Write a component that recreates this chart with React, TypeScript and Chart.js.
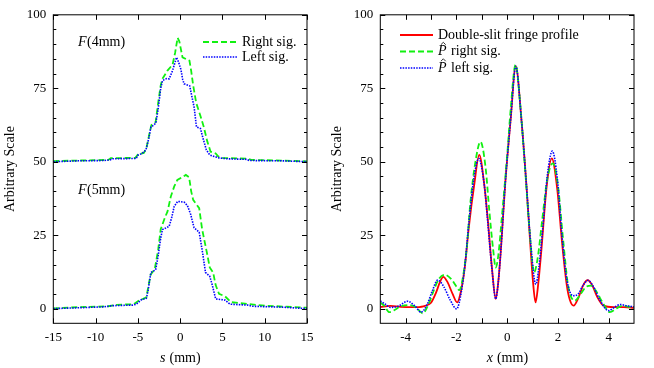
import React, { useEffect, useRef } from 'react';
import { Chart, registerables } from 'chart.js';
Chart.register(...registerables);

const FONT = '"Liberation Serif", "Times New Roman", serif';
const TXT = 14;

// ---------- tick definitions ----------
const sLabelTicks = [-15, -10, -5, 0, 5, 10, 15];
const xLabelTicks = [-4, -2, 0, 2, 4];
const xMarkTicks = [-4, -3, -2, -1, 0, 1, 2, 3, 4];
const yLabelTicks = [0, 25, 50, 75, 100];
const yMinorTicks = [5, 10, 15, 20, 30, 35, 40, 45, 55, 60, 65, 70, 80, 85, 90, 95];

// ---------- left panel: F(4mm) (offset +50) ----------
const up4RightS = [-15, -12, -8.5, -8.2, -5.3, -5, -4.3, -4.0, -3.6, -3.4, -2.9, -2.6, -2.3, -2.1, -1.5, -0.9, -0.6, -0.3, -0.1, 0.28, 1.1, 1.3, 1.55, 1.9, 2.44, 2.8, 3.2, 3.6, 4.2, 4.5, 5.0, 6, 8, 8.4, 12, 15];
const up4RightV = [50.2, 50.4, 50.6, 51.2, 51.3, 52.4, 53, 54.5, 60, 62.5, 63.5, 70, 76, 78.2, 81, 83, 87, 92.2, 91, 85.5, 84.4, 81, 75.8, 70, 65.2, 61.8, 57, 53.4, 52.8, 51.8, 51.3, 51.2, 51.0, 50.6, 50.4, 50.1];
const up4LeftS = [-15, -12, -9, -8.3, -8, -5.2, -5, -4.5, -4.05, -3.7, -3.46, -3.1, -2.87, -2.6, -2.3, -2.09, -1.6, -1.3, -0.9, -0.43, -0.2, 0.08, 0.3, 0.47, 1.13, 1.4, 1.65, 1.93, 2.4, 2.7, 3.1, 3.5, 4.0, 4.6, 5.5, 7.8, 8.2, 12, 15];
const up4LeftV = [50.0, 50.3, 50.4, 50.6, 51.0, 51.1, 52.2, 52.8, 54, 58, 61.8, 62.5, 63.2, 68, 75, 77.6, 78.3, 78.2, 81, 85.5, 84, 81.5, 78, 76.5, 75.8, 72, 68.6, 61.8, 61.3, 58, 54, 52.3, 51.8, 51.3, 51.0, 50.8, 50.4, 50.3, 50.0];

// ---------- left panel: F(5mm) ----------
const lo5RightS = [-15, -12, -8.5, -7.5, -5.5, -5.0, -4.5, -4.0, -3.5, -3.0, -2.6, -2.3, -1.8, -1.5, -1.1, -0.7, -0.33, 0.67, 1.06, 1.3, 1.54, 2.25, 2.6, 3.2, 3.5, 3.9, 4.2, 4.6, 5.3, 6.0, 8.2, 10, 15];
const lo5RightV = [0.1, 0.5, 0.8, 1.3, 1.5, 2.5, 3.2, 3.8, 11.5, 13.5, 20, 27, 31, 33, 38.2, 41.6, 43.8, 45.5, 44.7, 40, 37, 34.2, 27, 18.5, 14, 12.3, 8, 5, 4.2, 2.2, 1.5, 1.0, 0.3];
const lo5LeftS = [-15, -12, -9, -8, -5.6, -5.2, -4.6, -4.0, -3.8, -3.46, -2.9, -2.6, -2.3, -2.09, -1.3, -1.0, -0.7, -0.3, 0.5, 0.87, 1.25, 1.65, 2.25, 2.6, 3.0, 3.5, 3.8, 4.2, 5.3, 5.9, 8, 8.5, 12, 15];
const lo5LeftV = [0.0, 0.3, 0.6, 1.0, 1.2, 1.5, 3.0, 3.5, 6, 12.3, 13.2, 18, 24, 26.9, 28, 31, 34.8, 36.5, 36.2, 35, 32, 27.5, 26, 20, 12.3, 11, 8, 3.3, 2.9, 1.5, 1.2, 0.8, 0.5, 0.0];

// ---------- right panel ----------
const fringeX = [-5, -4.6, -4.2, -3.7, -3.3, -3.0, -2.8, -2.65, -2.52, -2.35, -2.15, -1.97, -1.82, -1.67, -1.52, -1.3, -1.1, -0.9, -0.77, -0.6, -0.45, -0.35, -0.25, -0.08, 0.14, 0.34, 0.56, 0.76, 0.93, 1.02, 1.12, 1.22, 1.35, 1.55, 1.76, 1.97, 2.17, 2.35, 2.47, 2.62, 2.8, 3.0, 3.17, 3.35, 3.55, 3.8, 4.2, 4.6, 5];
const fringeV = [0.5, 0.9, 0.6, 0.5, 0.8, 2.0, 5.5, 9, 10.8, 9, 5, 2.1, 6, 14, 27, 42, 52.3, 42, 31, 13.9, 3.3, 9, 19.6, 42, 64.6, 82.5, 64.6, 42, 19.6, 9, 2.1, 8, 20, 41, 51.1, 41, 22, 8, 3, 1.0, 3.5, 8, 9.7, 8, 4, 1, 0.5, 0.5, 0.3];
const pRightX = [-5, -4.85, -4.64, -4.4, -4.24, -3.9, -3.6, -3.33, -3.1, -2.9, -2.7, -2.45, -2.2, -2.0, -1.89, -1.78, -1.6, -1.45, -1.25, -1.05, -0.85, -0.7, -0.55, -0.45, -0.35, -0.2, 0.0, 0.14, 0.33, 0.52, 0.72, 0.88, 1.06, 1.2, 1.38, 1.58, 1.8, 2.0, 2.2, 2.4, 2.66, 2.9, 3.1, 3.31, 3.5, 3.8, 4.05, 4.3, 4.55, 4.8, 5.0];
const pRightV = [2.1, 1, -1.2, -0.3, 0.6, 1.2, 0.5, -1.6, 1.5, 6, 10, 11.5, 10, 7.5, 6.3, 9, 20, 36, 50, 56.8, 48, 33, 20, 14, 18, 32, 52, 68, 83, 69, 46, 27, 12.3, 17, 30, 44, 49.4, 42, 24, 8, 2.7, 5, 7.3, 7.8, 6, 1.5, -1.2, 0, 1.0, 0.6, 0.4];
const pLeftX = [-5, -4.8, -4.6, -4.3, -3.92, -3.65, -3.39, -3.15, -2.95, -2.74, -2.5, -2.25, -1.99, -1.8, -1.65, -1.5, -1.3, -1.12, -0.9, -0.77, -0.6, -0.45, -0.35, -0.25, -0.08, 0.14, 0.34, 0.56, 0.76, 0.93, 1.13, 1.25, 1.4, 1.58, 1.78, 1.98, 2.17, 2.35, 2.6, 2.8, 3.0, 3.18, 3.4, 3.65, 4.0, 4.2, 4.47, 4.7, 5.0];
const pLeftV = [2.6, 1.5, 0.4, 0.8, 2.5, 1, -1.2, 1.5, 6, 9.7, 7.5, 3, -0.1, 6, 16, 30, 45, 51.1, 42, 30, 13.5, 3.3, 9, 19.6, 42, 64.6, 82.5, 64.6, 42, 22, 8.3, 14, 27, 45, 53.6, 44, 24, 10, 4.4, 5, 8, 9.6, 7.5, 3, -0.7, 0.3, 1.4, 1, 0.6];

const RED = '#ff0000';
const GREEN = '#11f011';
const BLUE = '#0000ff';
const DASH_G = [6, 3];
const DASH_B = [1.5, 1.2];

type Series = { xs: number[]; ys: number[]; color: string; dash: number[]; width: number };
type LegendItem = { label: string; hat?: boolean; color: string; dash: number[]; width: number };
type TextItem = { italic: string; rest: string; x: number; y: number };
type PanelCfg = {
  xMin: number; xMax: number; xLabels: number[]; xMarks: number[];
  series: Series[]; smooth: boolean;
  legend: LegendItem[]; legendX: number; legendY: number; legendGap: number; legendLine: number;
  xTitleItalic: string;
  notes: TextItem[];
};

const W = 327, H = 368;
const PLOT_L = 53.3, PLOT_R = 307, PLOT_T = 14, PLOT_B = 323.3;

function drawMixed(ctx: CanvasRenderingContext2D, italic: string, rest: string, x: number, y: number, align: 'left' | 'center') {
  ctx.font = `italic ${TXT}px ${FONT}`;
  const wi = ctx.measureText(italic).width;
  ctx.font = `${TXT}px ${FONT}`;
  const wr = ctx.measureText(rest).width;
  const x0 = align === 'center' ? x - (wi + wr) / 2 : x;
  ctx.textAlign = 'left';
  ctx.textBaseline = 'middle';
  ctx.font = `italic ${TXT}px ${FONT}`;
  ctx.fillText(italic, x0, y);
  ctx.font = `${TXT}px ${FONT}`;
  ctx.fillText(rest, x0 + wi + 0.5, y);
}

function makePlugin(cfg: PanelCfg) {
  return {
    id: 'frame',
    afterDraw(chart: any) {
      const ctx: CanvasRenderingContext2D = chart.ctx;
      const a = chart.chartArea;
      const xs = chart.scales.x, ys = chart.scales.y;
      ctx.save();
      ctx.strokeStyle = '#000';
      ctx.lineWidth = 1;
      ctx.setLineDash([]);
      ctx.strokeRect(a.left, a.top, a.right - a.left, a.bottom - a.top);
      ctx.beginPath();
      for (const v of cfg.xMarks) {
        const p = Math.round(xs.getPixelForValue(v)) + 0.5;
        ctx.moveTo(p, a.bottom); ctx.lineTo(p, a.bottom - 5);
        ctx.moveTo(p, a.top); ctx.lineTo(p, a.top + 5);
      }
      for (const v of yLabelTicks) {
        const p = Math.round(ys.getPixelForValue(v)) + 0.5;
        ctx.moveTo(a.left, p); ctx.lineTo(a.left + 5, p);
        ctx.moveTo(a.right, p); ctx.lineTo(a.right - 5, p);
      }
      for (const v of yMinorTicks) {
        const p = Math.round(ys.getPixelForValue(v)) + 0.5;
        ctx.moveTo(a.left, p); ctx.lineTo(a.left + 3, p);
        ctx.moveTo(a.right, p); ctx.lineTo(a.right - 3, p);
      }
      ctx.stroke();

      ctx.fillStyle = '#000';
      // y title
      ctx.save();
      ctx.translate(10, (a.top + a.bottom) / 2);
      ctx.rotate(-Math.PI / 2);
      ctx.font = `${TXT}px ${FONT}`;
      ctx.textAlign = 'center';
      ctx.textBaseline = 'middle';
      ctx.fillText('Arbitrary Scale', 0, 0);
      ctx.restore();
      // x title
      drawMixed(ctx, cfg.xTitleItalic, ' (mm)', (a.left + a.right) / 2, 358, 'center');
      // notes
      for (const n of cfg.notes) drawMixed(ctx, n.italic, n.rest, n.x, n.y, 'left');
      // legend
      cfg.legend.forEach((it, i) => {
        const y = cfg.legendY + i * cfg.legendGap;
        ctx.beginPath();
        ctx.strokeStyle = it.color;
        ctx.lineWidth = it.width;
        ctx.setLineDash(it.dash);
        ctx.moveTo(cfg.legendX, y);
        ctx.lineTo(cfg.legendX + cfg.legendLine, y);
        ctx.stroke();
        ctx.setLineDash([]);
        const tx = cfg.legendX + cfg.legendLine + 5;
        ctx.fillStyle = '#000';
        ctx.textAlign = 'left';
        ctx.textBaseline = 'middle';
        if (it.hat) {
          ctx.font = `italic ${TXT}px ${FONT}`;
          ctx.fillText('P', tx, y);
          const w = ctx.measureText('P').width;
          const cx = tx + w * 0.62;
          ctx.beginPath();
          ctx.strokeStyle = '#000';
          ctx.lineWidth = 0.8;
          ctx.moveTo(cx - 2.4, y - 6.8);
          ctx.lineTo(cx, y - 9.2);
          ctx.lineTo(cx + 2.4, y - 6.8);
          ctx.stroke();
          ctx.font = `${TXT}px ${FONT}`;
          ctx.fillText(it.label, tx + w + 1, y);
        } else {
          ctx.font = `${TXT}px ${FONT}`;
          ctx.fillText(it.label, tx, y);
        }
      });
      ctx.restore();
    },
  };
}

const leftCfg: PanelCfg = {
  xMin: -15, xMax: 15, xLabels: sLabelTicks, xMarks: sLabelTicks,
  series: [
    { xs: up4LeftS, ys: up4LeftV, color: BLUE, dash: DASH_B, width: 1.6 },
    { xs: lo5LeftS, ys: lo5LeftV, color: BLUE, dash: DASH_B, width: 1.6 },
    { xs: up4RightS, ys: up4RightV, color: GREEN, dash: DASH_G, width: 1.8 },
    { xs: lo5RightS, ys: lo5RightV, color: GREEN, dash: DASH_G, width: 1.8 },
  ],
  smooth: false,
  legend: [
    { label: 'Right sig.', color: GREEN, dash: DASH_G, width: 1.8 },
    { label: 'Left sig.', color: BLUE, dash: DASH_B, width: 1.6 },
  ],
  legendX: 203, legendY: 42, legendGap: 15, legendLine: 34,
  xTitleItalic: 's',
  notes: [
    { italic: 'F', rest: '(4mm)', x: 78, y: 42 },
    { italic: 'F', rest: '(5mm)', x: 78, y: 190 },
  ],
};

const rightCfg: PanelCfg = {
  xMin: -5, xMax: 5, xLabels: xLabelTicks, xMarks: xMarkTicks,
  series: [
    { xs: pLeftX, ys: pLeftV, color: BLUE, dash: DASH_B, width: 1.6 },
    { xs: pRightX, ys: pRightV, color: GREEN, dash: DASH_G, width: 1.8 },
    { xs: fringeX, ys: fringeV, color: RED, dash: [], width: 1.8 },
  ],
  smooth: true,
  legend: [
    { label: 'Double-slit fringe profile', color: RED, dash: [], width: 1.8 },
    { label: ' right sig.', hat: true, color: GREEN, dash: DASH_G, width: 1.8 },
    { label: ' left sig.', hat: true, color: BLUE, dash: DASH_B, width: 1.6 },
  ],
  legendX: 73, legendY: 35, legendGap: 16.5, legendLine: 33,
  xTitleItalic: 'x',
  notes: [],
};

function Panel({ cfg, left }: { cfg: PanelCfg; left: number }) {
  const ref = useRef<HTMLCanvasElement>(null);
  useEffect(() => {
    if (!ref.current) return;
    const chart = new Chart(ref.current, {
      type: 'line',
      data: {
        datasets: cfg.series.map((s) => ({
          data: s.xs.map((x, i) => ({ x, y: s.ys[i] })),
          borderColor: s.color,
          borderWidth: s.width,
          borderDash: s.dash,
          pointRadius: 0,
          fill: false,
          tension: 0,
          cubicInterpolationMode: cfg.smooth ? 'monotone' : 'default',
        })) as any,
      },
      options: {
        responsive: false,
        animation: false,
        maintainAspectRatio: false,
        layout: { padding: { top: PLOT_T, right: W - PLOT_R, left: 0, bottom: 0 } },
        plugins: { legend: { display: false }, tooltip: { enabled: false } },
        scales: {
          x: {
            type: 'linear',
            min: cfg.xMin,
            max: cfg.xMax,
            afterBuildTicks: (sc: any) => { sc.ticks = cfg.xLabels.map((v) => ({ value: v })); },
            afterFit: (sc: any) => { sc.height = H - PLOT_B; },
            grid: { display: false, drawTicks: false },
            border: { display: false },
            ticks: {
              autoSkip: false, maxRotation: 0, padding: 6, color: '#000',
              font: { family: FONT, size: 13 },
              callback: (v: any) => String(v),
            },
          },
          y: {
            type: 'linear',
            min: -5,
            max: 100,
            afterBuildTicks: (sc: any) => { sc.ticks = yLabelTicks.map((v) => ({ value: v })); },
            afterFit: (sc: any) => { sc.width = PLOT_L; },
            grid: { display: false, drawTicks: false },
            border: { display: false },
            ticks: {
              autoSkip: false, padding: 7, color: '#000',
              font: { family: FONT, size: 13 },
              callback: (v: any) => String(v),
            },
          },
        },
      } as any,
      plugins: [makePlugin(cfg)],
    });
    return () => chart.destroy();
  }, [cfg]);
  return (
    <canvas
      ref={ref}
      width={W}
      height={H}
      style={{ position: 'absolute', left, top: 0, width: W, height: H, display: 'block' }}
    />
  );
}

export default function App() {
  return (
    <div style={{ position: 'fixed', left: 0, top: 0, width: 654, height: 368, background: '#fff' }}>
      <Panel cfg={leftCfg} left={0} />
      <Panel cfg={rightCfg} left={327} />
    </div>
  );
}
